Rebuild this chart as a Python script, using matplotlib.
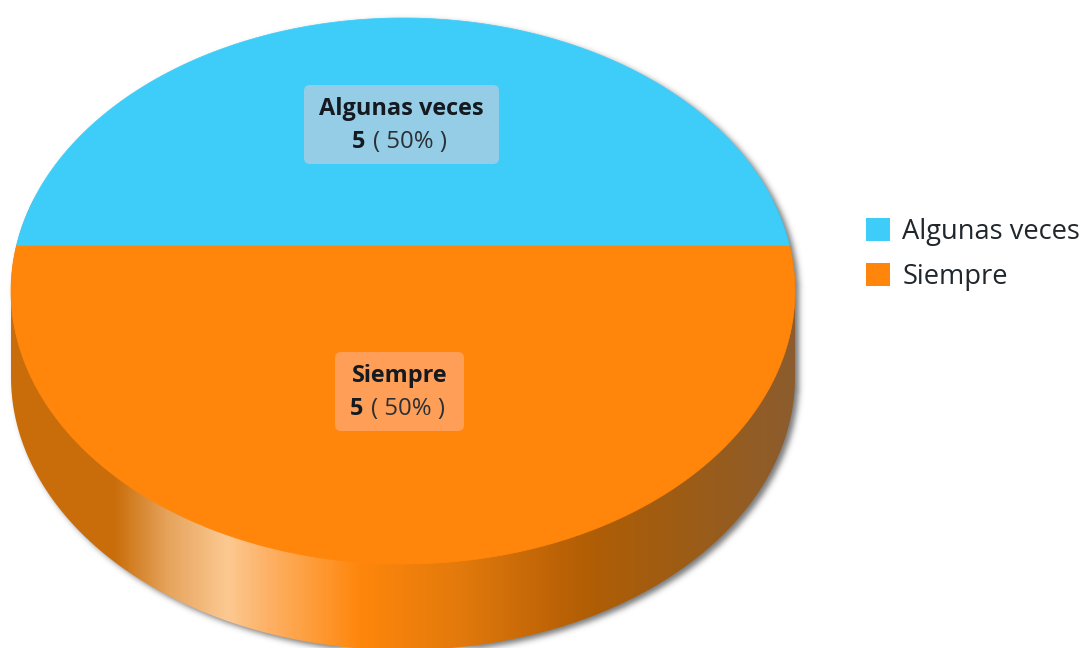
import numpy as np
import matplotlib
matplotlib.use('Agg')
import matplotlib.pyplot as plt
from matplotlib.colors import LinearSegmentedColormap
from matplotlib.patches import FancyBboxPatch, Patch, Polygon

plt.rcParams['font.family'] = ['Open Sans', 'DejaVu Sans']

# datos
categorias = ['Algunas veces', 'Siempre']
valores = [5, 5]
colores = ['#3ecdf8', '#ff860b']

# geometria del pastel en pixeles
cx, cy = 403, 291
rx, ry = 392, 273
apex_y = 246
grosor = 86

# degradado del lateral (x, color)
lateral = [(11, '#c96c0a'), (113, '#c96c0a'), (130, '#d27e22'), (167, '#e6a35c'),
           (227, '#fcc992'), (260, '#fdb56e'), (360, '#ff860b'), (460, '#e27a0c'),
           (560, '#bc6206'), (593, '#b05e05'), (677, '#9e5c14'), (795, '#8c5c2e')]


def borde(ang):
    # corte del rayo que sale del vertice con la elipse
    dx, dy = np.cos(ang), -np.sin(ang)
    oy = apex_y - cy
    a = dx**2 / rx**2 + dy**2 / ry**2
    b = 2 * oy * dy / ry**2
    c = oy**2 / ry**2 - 1
    t = (-b + np.sqrt(b**2 - 4 * a * c)) / (2 * a)
    return cx + t * dx, apex_y + t * dy


def cuna(ini, fin):
    angs = np.linspace(ini, fin, 300)
    x, y = borde(angs)
    return np.column_stack([np.r_[cx, x], np.r_[apex_y, y]])


fig = plt.figure(figsize=(10.84, 6.48), dpi=100)
ax = fig.add_axes([0, 0, 1, 1])
ax.axis('off')

# sombra difusa: mascara del cuerpo desplazada y suavizada
gx, gy = np.meshgrid(np.arange(1084) + 0.5, np.arange(648) + 0.5)
sx, sy = gx - cx - 4, gy - cy - 3
mask = (sx**2 / rx**2 + sy**2 / ry**2 <= 1)
mask |= (sx**2 / rx**2 + (sy - grosor)**2 / ry**2 <= 1)
mask |= (np.abs(sx) <= rx) & (sy >= 0) & (sy <= grosor)
kernel = np.exp(-np.arange(-9, 10)**2 / (2 * 3.0**2))
kernel /= kernel.sum()
blur = mask.astype(float)
blur = np.apply_along_axis(lambda f: np.convolve(f, kernel, mode='same'), 0, blur)
blur = np.apply_along_axis(lambda f: np.convolve(f, kernel, mode='same'), 1, blur)
sombra = np.zeros((648, 1084, 4))
sombra[..., :3] = 0.3
sombra[..., 3] = blur * 0.75
ax.imshow(sombra, extent=[0, 1084, 648, 0], aspect='auto', zorder=1)

# contorno del cuerpo: elipse superior + elipse inferior
t = np.linspace(0, 2 * np.pi, 720)
cuerpo_x = np.r_[cx + rx * np.cos(t[:361]), cx - rx, cx + rx * np.cos(t[360:]), cx + rx]
cuerpo_y = np.r_[cy + grosor + ry * np.sin(t[:361]), cy, cy + ry * np.sin(t[360:]), cy + grosor]
cuerpo = np.column_stack([cuerpo_x, cuerpo_y])

# lateral con degradado, recortado al cuerpo
xs = [p[0] for p in lateral]
cmap = LinearSegmentedColormap.from_list(
    'lateral', [((x - xs[0]) / (xs[-1] - xs[0]), c) for x, c in lateral], N=512)
im = ax.imshow(np.linspace(0, 1, 784)[None, :], cmap=cmap, aspect='auto',
               extent=[xs[0], xs[-1], 648, 200], zorder=2)
fondo = Polygon(cuerpo, closed=True, fc='none', ec='none', zorder=2)
ax.add_patch(fondo)
im.set_clip_path(fondo)
ax.set_xlim(0, 1084)
ax.set_ylim(648, 0)

# porciones: cada valor ocupa su parte de la vuelta, empezando por la izquierda
frac = np.cumsum([0] + valores) / sum(valores)
angulos = np.pi - frac * 2 * np.pi
for i in range(len(valores)):
    ax.add_patch(Polygon(cuna(angulos[i], angulos[i + 1]), closed=True, fc=colores[i],
                         ec=colores[i], lw=0.5, zorder=3))

# etiquetas
cajas = [(304, 85, 195, 79, '#96cde6', 401.5, 365), (335, 352, 129, 79, '#ff9f57', 399.5, 363)]
for i, (bx, by, bw, bh, color, tx, sep) in enumerate(cajas):
    ax.add_patch(FancyBboxPatch((bx + 6, by + 6), bw - 12, bh - 12,
                                boxstyle='round,pad=6,rounding_size=6',
                                fc=color, ec='none', zorder=4))
    ax.text(tx, by + 24, categorias[i], ha='center', va='center', fontsize=16.9,
            fontweight='bold', color='#141a20', zorder=5)
    ax.text(sep, by + 57, str(valores[i]), ha='right', va='center', fontsize=16.9,
            fontweight='bold', color='#141a20', zorder=5)
    ax.text(sep + 8, by + 57, '( %d%% )' % round(100 * valores[i] / sum(valores)),
            ha='left', va='center', fontsize=17.2, color='#2a3035', zorder=5)

# leyenda
handles = [Patch(fc=c, ec='none') for c in colores]
ax.legend(handles, categorias, loc='upper left', bbox_to_anchor=(866 / 1084, 1 - 218 / 648),
          frameon=False, fontsize=19.6, handlelength=0.88, handleheight=0.88,
          handletextpad=0.45, labelspacing=0.62, borderpad=0, borderaxespad=0,
          labelcolor='#1f262c')

fig.savefig('out.png', dpi=100)
